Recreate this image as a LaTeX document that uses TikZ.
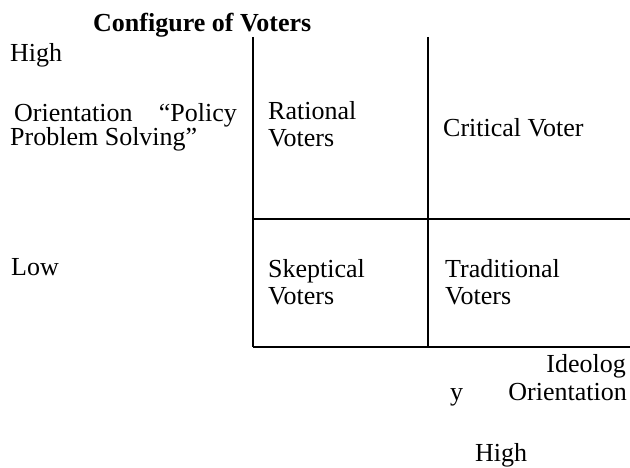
\documentclass[tikz,border=0pt]{standalone}
\usepackage{fontspec}
\setmainfont{Liberation Serif}
\begin{document}
\begin{tikzpicture}[x=1pt,y=-1pt,
  txt/.style={inner sep=0pt,anchor=base west,font=\fontsize{26}{28}\selectfont},
  txtr/.style={inner sep=0pt,anchor=base east,font=\fontsize{26}{28}\selectfont},
  grid/.style={line width=2pt}]
\useasboundingbox (0,0) rectangle (630,468);
% grid coordinates
\coordinate (lt) at (253,37);
\coordinate (mt) at (428,37);
\coordinate (lm) at (253,219);
\coordinate (rm) at (630,219);
\coordinate (lb) at (253,347);
\coordinate (mb) at (428,347);
\coordinate (rb) at (630,347);
\draw[grid] (lt) -- (lb);
\draw[grid] (mt) -- (mb);
\draw[grid] (lm) -- (rm);
\draw[grid] (lb) -- (rb);
% title
\node[txt,font=\fontsize{26}{28}\selectfont\bfseries] (title) at (93,32) {Configure of Voters};
% left axis labels
\node[txt] (high1) at (10,62) {High};
\node[txt] (ori1) at (14,122) {Orientation};
\node[txtr] (pol) at (237,122) {“Policy};
\node[txt] (prob) at (10,146) {Problem Solving”};
\node[txt] (low) at (11,276) {Low};
% cells
\node[txt] (rat1) at (268,120) {Rational};
\node[txt] (rat2) at (268,147) {Voters};
\node[txt] (crit) at (443,137) {Critical Voter};
\node[txt] (sk1) at (268,277) {Skeptical};
\node[txt] (sk2) at (268,305) {Voters};
\node[txt] (tr1) at (445,277) {Traditional};
\node[txt] (tr2) at (445,305) {Voters};
% bottom axis labels
\node[txtr] (ideo) at (626,372) {Ideolog};
\node[txt] (y) at (450,400) {y};
\node[txtr] (ori2) at (627,400) {Orientation};
\node[txt] (high2) at (475,461) {High};
\end{tikzpicture}
\end{document}
